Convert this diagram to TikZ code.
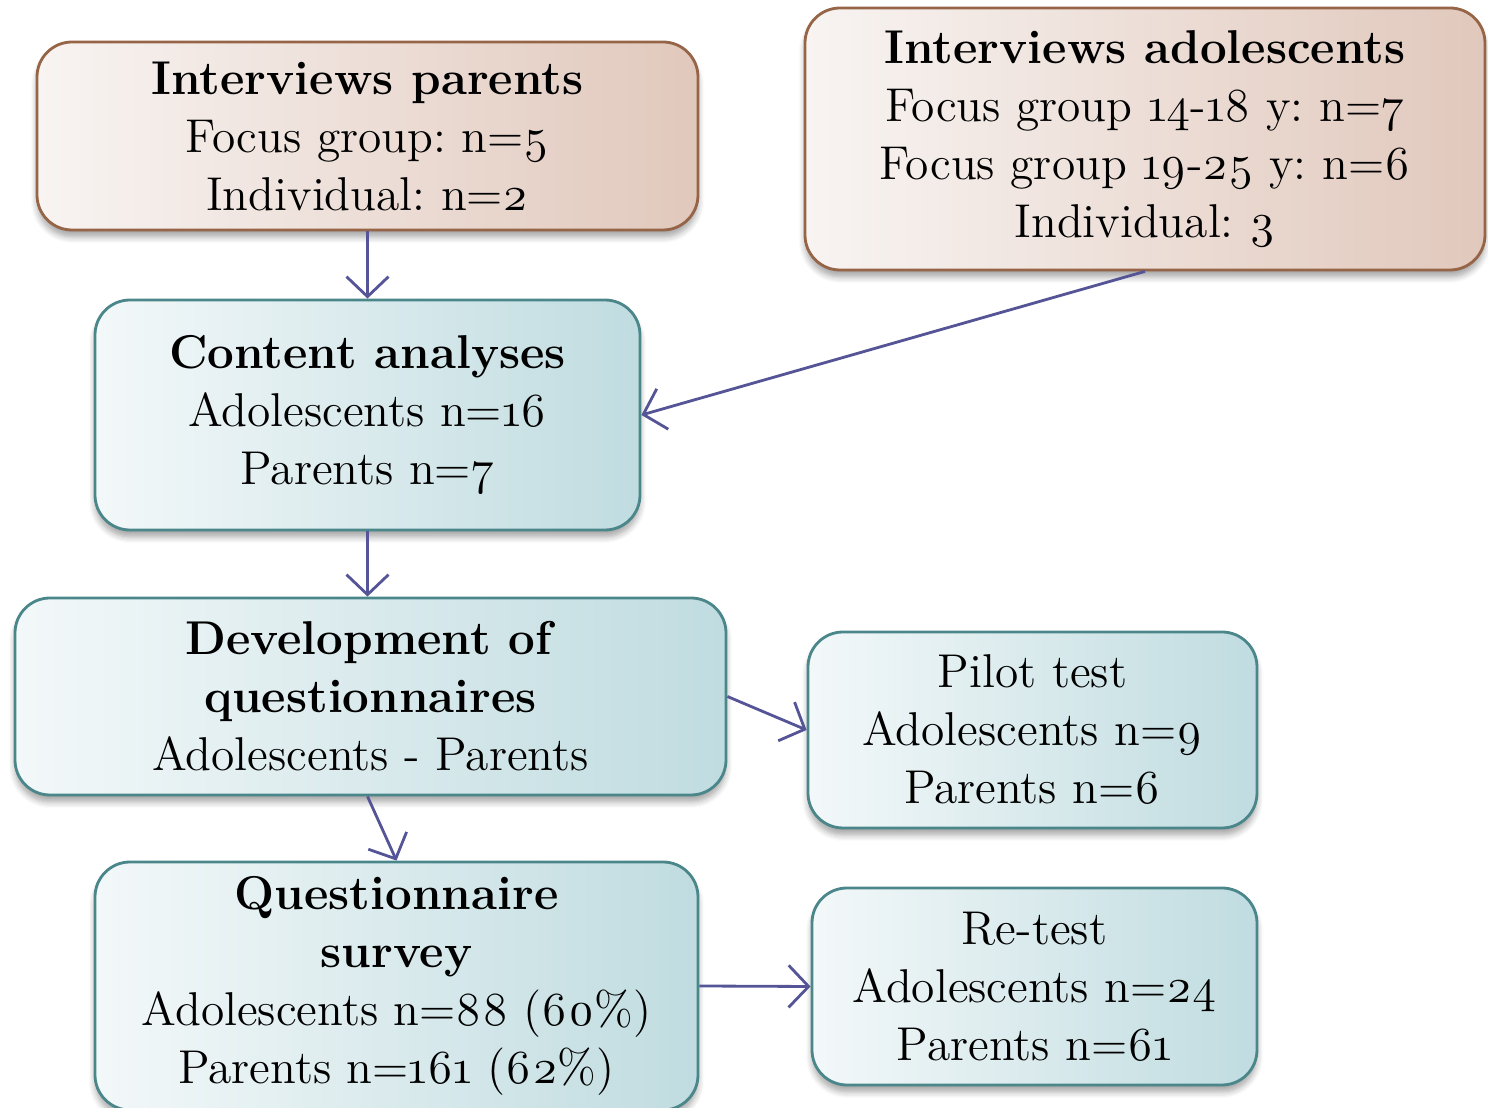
\documentclass[tikz,border=0pt]{standalone}
\usepackage{fontspec}
\setmainfont{Latin Modern Roman}[Numbers=OldStyle]
\usetikzlibrary{arrows.meta,shadows.blur}
\frenchspacing

\definecolor{arrowblue}{RGB}{84,84,150}
\definecolor{tanedge}{RGB}{150,100,70}
\definecolor{tanleft}{RGB}{248,244,242}
\definecolor{tanright}{RGB}{225,200,188}
\definecolor{tealedge}{RGB}{75,135,138}
\definecolor{tealleft}{RGB}{243,248,249}
\definecolor{tealright}{RGB}{192,220,224}

\tikzset{
  box/.style={rounded corners=0.35cm, line width=0.8pt, align=center, inner sep=0pt,
    blur shadow={shadow xshift=0pt, shadow yshift=-0.07cm, shadow blur steps=6, shadow opacity=35},
    font=\fontsize{13.5}{16.5}\selectfont},
  tanbox/.style={box, draw=tanedge, left color=tanleft, right color=tanright},
  tealbox/.style={box, draw=tealedge, left color=tealleft, right color=tealright},
  flow/.style={->, draw=arrowblue, line width=0.8pt},
  >={Straight Barb[length=0.2cm,width=0.42cm]}
}

\begin{document}
\begin{tikzpicture}
  \useasboundingbox (0,0) rectangle (14.88,11.08);

  % interviews
  \node[tanbox, minimum width=6.61cm, minimum height=1.88cm] (par) at (3.675,9.72)
    {\textbf{Interviews parents}\\Focus group: n=5\\Individual: n=2};
  \node[tanbox, minimum width=6.8cm, minimum height=2.62cm] (ado) at (11.45,9.69)
    {\textbf{Interviews adolescents}\\Focus group 14-18 y: n=7\\Focus group 19-25 y: n=6\\Individual: 3};

  % analyses and questionnaires
  \node[tealbox, minimum width=5.45cm, minimum height=2.3cm] (ana) at (3.675,6.93)
    {\textbf{Content analyses}\\Adolescents n=16\\Parents n=7};
  \node[tealbox, minimum width=7.11cm, minimum height=1.97cm] (dev) at (3.705,4.115)
    {\textbf{Development of}\\\textbf{questionnaires}\\Adolescents - Parents};
  \node[tealbox, minimum width=6.03cm, minimum height=2.48cm] (sur) at (3.965,1.22)
    {\textbf{Questionnaire}\\\textbf{survey}\\Adolescents n=88 (60\%)\\Parents n=161 (62\%)};

  % tests
  \node[tealbox, minimum width=4.49cm, minimum height=1.96cm] (pil) at (10.325,3.78)
    {Pilot test\\Adolescents n=9\\Parents n=6};
  \node[tealbox, minimum width=4.45cm, minimum height=1.97cm] (ret) at (10.345,1.215)
    {Re-test\\Adolescents n=24\\Parents n=61};

  \draw[flow] (par.south) -- (ana.north);
  \draw[flow] (ado.south) -- (ana.east);
  \draw[flow] (ana.south) -- (ana.south |- dev.north);
  \draw[flow] (ana.south |- dev.south) -- (sur.north);
  \draw[flow] (dev.east) -- (pil.west);
  \draw[flow] (sur.east) -- (ret.west);
\end{tikzpicture}
\end{document}
